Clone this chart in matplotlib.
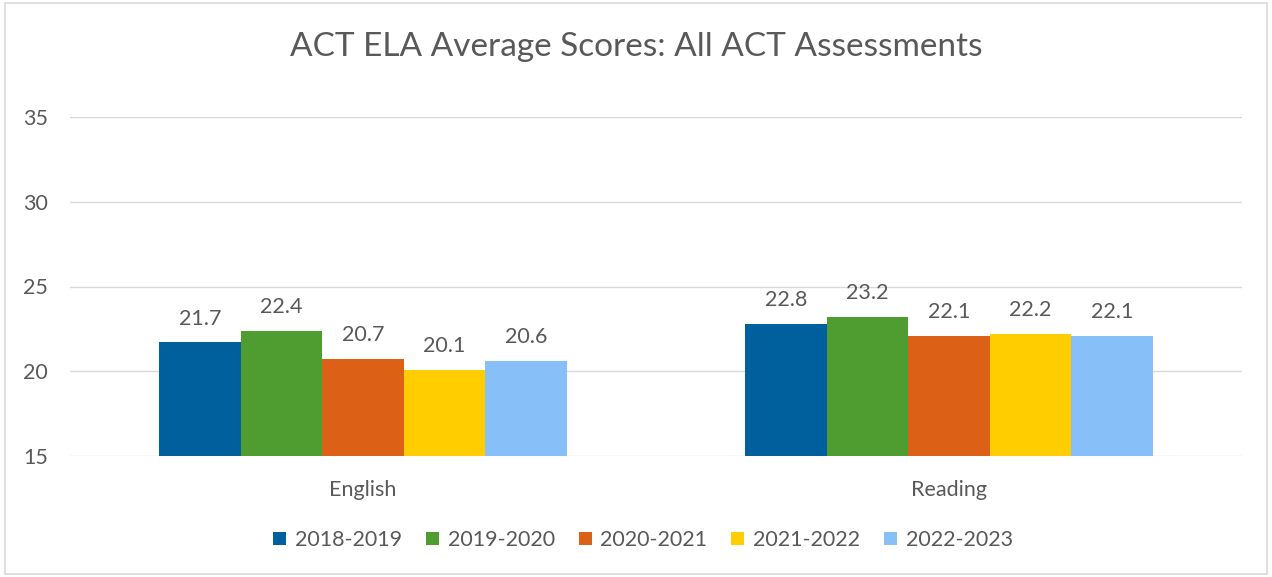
import matplotlib
matplotlib.use("Agg")
import matplotlib.pyplot as plt
import numpy as np
from matplotlib.patches import Rectangle

categories = ["English", "Reading"]
years = ["2018-2019", "2019-2020", "2020-2021", "2021-2022", "2022-2023"]
scores = {
    "2018-2019": [21.7, 22.8],
    "2019-2020": [22.4, 23.2],
    "2020-2021": [20.7, 22.1],
    "2021-2022": [20.1, 22.2],
    "2022-2023": [20.6, 22.1],
}
colors = ["#005f9d", "#4f9c30", "#dc6016", "#ffcd00", "#87bff9"]
yticks = [15, 20, 25, 30, 35]

plt.rcParams['font.family'] = ['Lato', 'DejaVu Sans']
txt = "#595959"
fs = 15.5

fig = plt.figure(figsize=(12.72, 5.77), dpi=100)
fig.patches.append(Rectangle((5/1272, 3/577), 1262/1272, 571/577, transform=fig.transFigure,
                             fill=False, edgecolor="#d9d9d9", linewidth=1.2))
ax = fig.add_axes([70/1272, 1-456/577, 1172/1272, 339/577])

x = np.arange(len(categories))
bw = 0.139
n = len(years)
for i, (yr, c) in enumerate(zip(years, colors)):
    pos = x + (i - (n - 1) / 2) * bw
    vals = scores[yr]
    ax.bar(pos, [v - 15 for v in vals], bottom=15, width=bw, color=c, label=yr, zorder=3)
    for p, v in zip(pos, vals):
        ax.annotate(f"{v:.1f}", (p, v), xytext=(0, 10), textcoords="offset points",
                    ha="center", va="bottom", fontsize=fs, color=txt)

ax.set_xlim(-0.5, 1.5)
ax.set_ylim(15, 35)
ax.set_yticks(yticks)
ax.set_xticks(x)
ax.set_xticklabels(categories)
ax.grid(axis="y", color="#d9d9d9", linewidth=1, zorder=0)
for s in ax.spines.values():
    s.set_visible(False)
ax.tick_params(axis="both", length=0, labelsize=fs, labelcolor=txt)
ax.tick_params(axis="y", pad=16)
ax.tick_params(axis="x", pad=17)

fig.text(0.5, 1 - 47/577, "ACT ELA Average Scores: All ACT Assessments", ha="center", va="center",
         fontsize=24, color=txt)

leg = fig.legend(loc="center", bbox_to_anchor=(643/1272, 1 - 540/577), ncol=5, frameon=False,
                 fontsize=fs, labelcolor=txt, handlelength=0.6, handleheight=0.6,
                 handletextpad=0.4, columnspacing=1.12)

fig.savefig("out.png", dpi=100)
